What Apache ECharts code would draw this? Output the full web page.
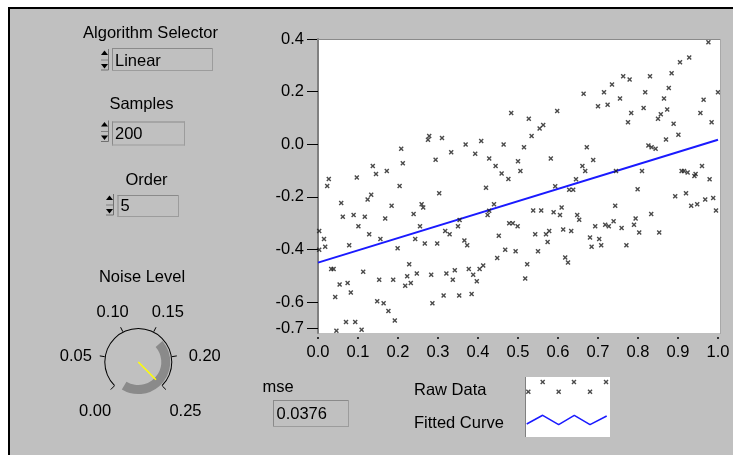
<!DOCTYPE html>
<html><head><meta charset="utf-8">
<script src="https://cdn.jsdelivr.net/npm/echarts@6/dist/echarts.min.js"></script>
<style>html,body{margin:0;padding:0;background:#fff;}#c{width:733px;height:455px;}</style>
</head><body><div id="c"></div>
<script>
// ---------- data ----------
const rawX = [0.483,0.278,0.275,0.310,0.369,0.408,0.464,0.208,0.333,0.393,0.294,0.428,0.212,0.500,0.137,0.444,0.145,0.172,0.459,0.476,
0.506,0.027,0.097,0.023,0.204,0.420,0.976,0.928,0.905,0.884,0.763,0.779,0.830,0.735,0.877,0.664,0.715,0.818,1.000,0.755,
0.865,0.964,0.700,0.724,0.814,0.873,0.598,0.783,0.857,0.850,0.956,0.527,0.563,0.554,0.775,0.889,0.984,0.534,0.901,0.870,
0.515,0.672,0.826,0.834,0.844,0.582,0.688,0.661,0.668,0.745,0.810,0.909,0.915,0.924,0.944,0.941,0.960,0.979,0.645,0.593,
0.799,0.303,0.133,0.124,0.058,0.184,0.259,0.263,0.440,0.062,0.089,0.117,0.168,0.239,0.428,0.424,0.101,0.255,0.350,0.354,
0.478,0.487,0.499,0.003,0.128,0.318,0.329,0.452,0.015,0.156,0.243,0.003,0.018,0.078,0.199,0.267,0.298,0.366,0.373,0.468,
0.494,0.448,0.033,0.039,0.228,0.113,0.247,0.223,0.283,0.321,0.342,0.377,0.404,0.413,0.388,0.153,0.188,0.232,0.218,0.337,
0.397,0.054,0.074,0.082,0.043,0.314,0.353,0.384,0.148,0.164,0.286,0.176,0.192,0.070,0.093,0.109,0.046,0.628,0.638,0.893,
0.920,0.933,0.948,0.968,0.988,0.995,0.743,0.538,0.558,0.589,0.609,0.605,0.648,0.653,0.833,0.794,0.790,0.739,0.718,0.727,
0.693,0.759,0.613,0.633,0.543,0.570,0.578,0.803,0.853,0.680,0.703,0.574,0.684,0.708,0.771,0.550,0.618,0.625,0.523,0.518];
const rawY = [0.119,0.031,0.017,0.024,-0.001,0.012,-0.001,-0.017,-0.030,-0.036,-0.059,-0.054,-0.072,-0.065,-0.083,-0.083,-0.113,-0.102,-0.111,-0.132,
-0.102,-0.132,-0.126,-0.159,-0.159,-0.165,0.388,0.330,0.312,0.270,0.258,0.246,0.258,0.227,0.214,0.192,0.198,0.198,0.198,0.174,
0.174,0.169,0.144,0.150,0.138,0.132,0.126,0.119,0.114,0.097,0.119,0.097,0.073,0.060,0.084,0.078,0.084,0.031,0.036,0.018,
-0.011,-0.011,-0.005,-0.011,-0.017,-0.054,-0.060,-0.083,-0.102,-0.102,-0.102,-0.102,-0.102,-0.107,-0.113,-0.121,-0.083,-0.133,-0.133,-0.160,
-0.171,-0.186,-0.192,-0.210,-0.223,-0.234,-0.228,-0.240,-0.228,-0.276,-0.269,-0.276,-0.282,-0.265,-0.253,-0.269,-0.312,-0.312,-0.312,-0.288,
-0.300,-0.300,-0.312,-0.330,-0.342,-0.330,-0.342,-0.348,-0.360,-0.360,-0.360,-0.401,-0.390,-0.384,-0.395,-0.377,-0.377,-0.366,-0.384,-0.401,
-0.407,-0.432,-0.474,-0.474,-0.456,-0.485,-0.491,-0.502,-0.496,-0.491,-0.479,-0.474,-0.474,-0.461,-0.496,-0.515,-0.515,-0.527,-0.538,-0.515,
-0.521,-0.533,-0.527,-0.563,-0.581,-0.575,-0.575,-0.569,-0.597,-0.604,-0.604,-0.634,-0.670,-0.676,-0.676,-0.705,-0.709,-0.173,-0.173,-0.198,
-0.186,-0.234,-0.228,-0.210,-0.204,-0.252,-0.234,-0.252,-0.252,-0.258,-0.240,-0.269,-0.269,-0.287,-0.265,-0.282,-0.306,-0.293,-0.306,-0.312,
-0.312,-0.318,-0.324,-0.330,-0.342,-0.342,-0.330,-0.335,-0.335,-0.354,-0.360,-0.372,-0.390,-0.384,-0.384,-0.407,-0.430,-0.449,-0.456,-0.510];
const fitX = [0, 1];
const fitY = [-0.450, 0.017];
const xTicks = [0,0.1,0.2,0.3,0.4,0.5,0.6,0.7,0.8,0.9,1.0];
const yTicks = [0.4,0.2,0,-0.2,-0.4,-0.6,-0.7];
const legendRawX = [0.039,0.208,0.396,0.576,0.765,0.953];
const legendRawY = [0.755,0.917,0.755,0.917,0.755,0.917];
const legendFitX = [0.02,0.208,0.396,0.58,0.765,0.961];
const legendFitY = [0.217,0.362,0.205,0.362,0.205,0.35];
const dialTicks = [0,0.05,0.10,0.15,0.20,0.25];
const dialMax = 0.25;
const noiseLevel = 0.25;
const algorithmText = 'Linear';
const samplesText = '200';
const orderText = '5';
const mseText = '0.0376';
const seriesNames = ['Raw Data','Fitted Curve'];
const controlLabels = ['Algorithm Selector','Samples','Order','Noise Level','mse'];

// ---------- drawing ----------
const F = '"Liberation Sans", Arial, sans-serif';
const FS = 16.5;
function txt(text, x, y, align, size){
  return {type:'text', x:x, y:y, z:20, style:{text:text, font:(size||FS)+'px '+F, fill:'#000',
    align:align||'center', verticalAlign:'middle', textAlign:align||'center', textVerticalAlign:'middle'}};
}
function line(x1,y1,x2,y2,color,w){
  return {type:'line', z:20, shape:{x1,y1,x2,y2}, style:{stroke:color, lineWidth:w||1}};
}
function box(x,y,w,h){
  return [
    {type:'rect', z:15, shape:{x,y,width:w,height:h}, style:{fill:'#c0c0c0', stroke:null}},
    line(x,y+0.5,x+w,y+0.5,'#8a8a8a'), line(x+0.5,y,x+0.5,y+h,'#8a8a8a'),
    line(x,y+h-0.5,x+w,y+h-0.5,'#9c9c9c'), line(x+w-0.5,y,x+w-0.5,y+h,'#9c9c9c')
  ];
}
function spinner(x,m){
  return [
    {type:'polygon', z:20, shape:{points:[[x,m-4.5],[x+3.5,m-9],[x+7,m-4.5]]}, style:{fill:'#000'}},
    line(x,m+0.5,x+7,m+0.5,'#808080'),
    {type:'polygon', z:20, shape:{points:[[x,m+4.5],[x+7,m+4.5],[x+3.5,m+9]]}, style:{fill:'#000'}},
    line(x+7.5,m-10.5,x+7.5,m+10.5,'#707070'),
    line(x,m+10.5,x+7.5,m+10.5,'#707070')
  ];
}

const g = [];
// panel frame
g.push({type:'rect', z:5, shape:{x:0,y:0,width:733,height:7}, style:{fill:'#fff'}});
g.push({type:'rect', z:5, shape:{x:0,y:0,width:8,height:455}, style:{fill:'#fff'}});
g.push(line(8,8,733,8,'#000',2));
g.push(line(9,8,9,455,'#000',2));
// controls
g.push(txt(controlLabels[0],150.5,33));
g.push(...spinner(101,59.5)); g.push(...box(112,48,101,23)); g.push(txt(algorithmText,115,61,'left'));
g.push(txt(controlLabels[1],141.5,104));
g.push(...spinner(101,131)); g.push(...box(112,121.5,73,24)); g.push(txt(samplesText,115,134.5,'left'));
g.push(txt(controlLabels[2],146.5,180));
g.push(...spinner(106,204.5)); g.push(...box(117.5,195,61.5,22)); g.push(txt(orderText,120.5,206,'left'));
g.push(txt(controlLabels[3],142,277));
// dial labels
const dc = [138.3, 362];
dialTicks.forEach(v => {
  const th = (225 - v/dialMax*270) * Math.PI/180;
  const c = Math.cos(th), s = Math.sin(th);
  const R = 48 + Math.abs(c)*16.5 + Math.abs(s)*6;
  g.push(txt(v.toFixed(2), dc[0] + 2 + R*c, dc[1] + 4.5 - R*s));
});
// mse
g.push(txt(controlLabels[4],262.5,387,'left'));
g.push(...box(273,400,76,27)); g.push(txt(mseText,276.5,414,'left'));
// legend texts
g.push(txt(seriesNames[0],414,390.5,'left'));
g.push(txt(seriesNames[1],414,423.5,'left'));
g.push(line(525.5,377,525.5,437,'#808080'));
// plot borders
g.push(line(317,39.5,720,39.5,'#8a8a8a'));
g.push(line(720.5,39,720.5,334,'#a8a8a8'));

const xShape = 'path://M1,0L2.5,1.5L4,0L5,1L3.5,2.5L5,4L4,5L2.5,3.5L1,5L0,4L1.5,2.5L0,1Z';

const option = {
  animation:false,
  backgroundColor:'#c0c0c0',
  grid:[
    {left:318, top:39, width:402, height:294, show:true, backgroundColor:'#fff', borderWidth:0},
    {left:525, top:377, width:85, height:60, show:true, backgroundColor:'#fff', borderWidth:0}
  ],
  xAxis:[
    {gridIndex:0, type:'value', min:0, max:1.005, axisLine:{show:false}, axisTick:{show:false}, splitLine:{show:false},
     axisLabel:{customValues:xTicks, formatter:v=>v.toFixed(1), margin:11, color:'#000', fontFamily:F, fontSize:FS}},
    {gridIndex:0, type:'value', min:0, max:1.005, position:'bottom', offset:4, axisLine:{show:false},
     axisTick:{show:true, length:2, customValues:xTicks, lineStyle:{color:'#000', width:1.5}},
     axisLabel:{show:false}, splitLine:{show:false}},
    {gridIndex:1, type:'value', min:0, max:1, show:false}
  ],
  yAxis:[
    {gridIndex:0, type:'value', min:-0.7174, max:0.4,
     axisLine:{show:true, lineStyle:{color:'#808080', width:2}},
     axisTick:{show:true, length:11, customValues:yTicks, lineStyle:{color:'#000', width:1}},
     axisLabel:{customValues:yTicks, formatter:v=>v.toFixed(1), margin:14, color:'#000', fontFamily:F, fontSize:FS},
     splitLine:{show:false}},
    {gridIndex:1, type:'value', min:0, max:1, show:false}
  ],
  series:[
    {name:seriesNames[1], type:'line', xAxisIndex:0, yAxisIndex:0, z:2,
     data:fitX.map((x,i)=>[x,fitY[i]]), showSymbol:false, lineStyle:{color:'#1a1aff', width:2}},
    {name:seriesNames[0], type:'scatter', xAxisIndex:0, yAxisIndex:0, z:3,
     data:rawX.map((x,i)=>[x,rawY[i]]), symbol:xShape, symbolSize:5, itemStyle:{color:'#1e1e1e'}},
    {type:'scatter', xAxisIndex:2, yAxisIndex:1, data:legendRawX.map((x,i)=>[x,legendRawY[i]]),
     symbol:xShape, symbolSize:5, itemStyle:{color:'#1e1e1e'}},
    {type:'line', xAxisIndex:2, yAxisIndex:1, data:legendFitX.map((x,i)=>[x,legendFitY[i]]),
     showSymbol:false, lineStyle:{color:'#1a1aff', width:1.5}},
    // knob shading
    {type:'gauge', center:[138.3,362], radius:32, startAngle:41, endAngle:-121, min:0, max:1,
     axisLine:{lineStyle:{width:9, color:[[1,'#8a8a8a']]}}, splitLine:{show:false}, axisTick:{show:false},
     axisLabel:{show:false}, pointer:{show:false}, anchor:{show:false}, title:{show:false}, detail:{show:false},
     progress:{show:false}, data:[{value:0}]},
    // dial
    {type:'gauge', center:[138.3,362], radius:34, startAngle:225, endAngle:-45, min:0, max:dialMax, splitNumber:5,
     axisLine:{lineStyle:{width:1, color:[[1,'#000']]}},
     splitLine:{show:true, distance:-6, length:5, lineStyle:{color:'#000', width:1}},
     axisTick:{show:false}, axisLabel:{show:false},
     pointer:{show:true, icon:'rect', length:25, width:1.5, offsetCenter:[0,0], itemStyle:{color:'#ffff00'}},
     anchor:{show:false}, title:{show:false}, detail:{show:false}, progress:{show:false},
     data:[{value:noiseLevel}]}
  ],
  graphic:{elements:g}
};
const chart = echarts.init(document.getElementById('c'), null, {renderer:'canvas'});
chart.setOption(option);
</script></body></html>
